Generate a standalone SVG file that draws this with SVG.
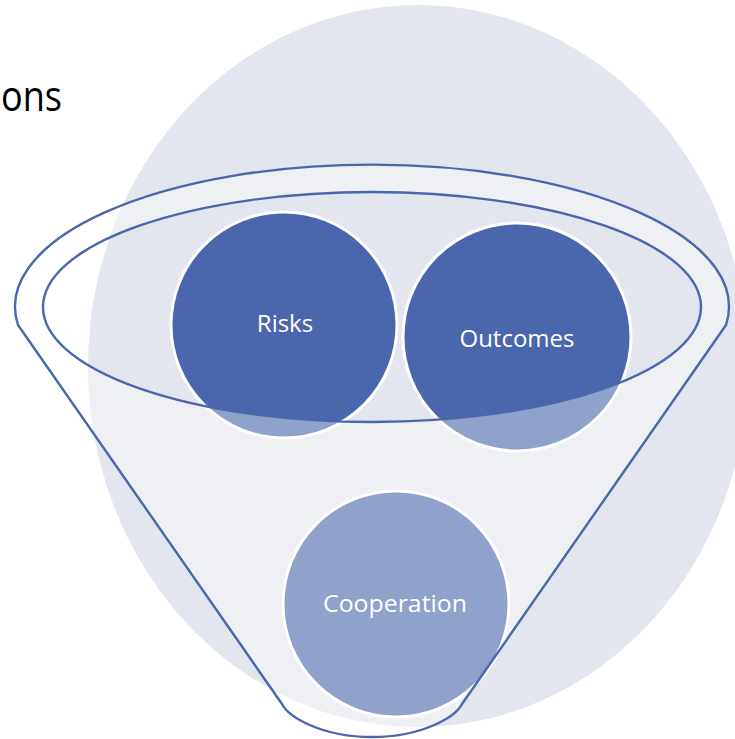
<svg xmlns="http://www.w3.org/2000/svg" width="735" height="739" viewBox="0 0 735 739">
<style>
.lbl{font-family:"Open Sans","Noto Sans","DejaVu Sans",sans-serif;font-size:24px;fill:#FFFFFF;text-anchor:middle}
.node{fill:#4A66AC;stroke:#FFFFFF;stroke-width:3}
.funnel{fill:#FFFFFF;fill-opacity:0.39;fill-rule:evenodd;stroke:#4A66AC;stroke-width:2.4;stroke-linejoin:round}
</style>
<rect width="735" height="739" fill="#FFFFFF"/>
<text x="1" y="111" font-family="'Open Sans','Noto Sans',sans-serif" font-size="42" fill="#000000" textLength="61" lengthAdjust="spacingAndGlyphs">ons</text>
<ellipse id="background" cx="418" cy="366" rx="330" ry="361" fill="#E3E6EE"/>
<g id="risks">
<circle class="node" cx="284" cy="325" r="113"/>
<text class="lbl" x="285" y="332">Risks</text>
</g>
<g id="outcomes">
<circle class="node" cx="517" cy="337" r="114"/>
<text class="lbl" x="517" y="347">Outcomes</text>
</g>
<g id="cooperation">
<circle class="node" cx="396" cy="604" r="113"/>
<text class="lbl" x="395" y="612" textLength="144" lengthAdjust="spacingAndGlyphs">Cooperation</text>
</g>
<g id="funnel">
<path class="funnel" d="M 18,325 A 357 142 0 1 1 726,325 L 462,704 C 456,716 424,737 372,737 C 320,737 288,716 282,704 Z M 43,307 A 329 115 0 1 0 701,307 A 329 115 0 1 0 43,307 Z"/>
</g>
<g id="connectors"></g>
</svg>
